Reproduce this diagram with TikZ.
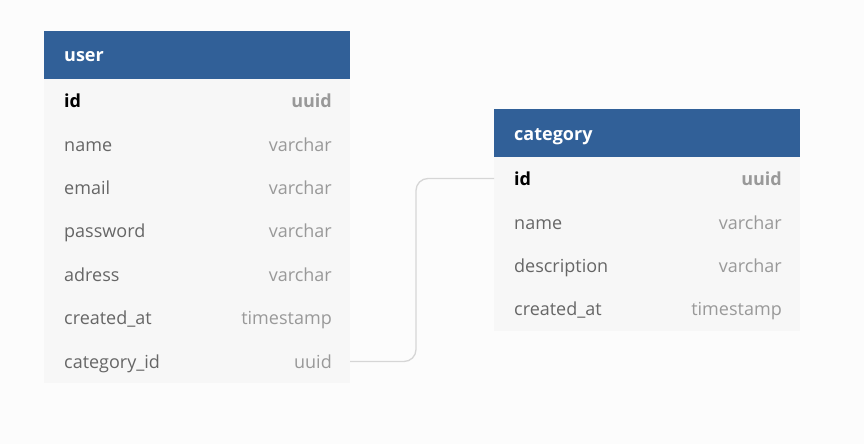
\documentclass[tikz,border=0pt]{standalone}
\usepackage{fontspec}
\setmainfont{Open Sans}
\begin{document}
\begin{tikzpicture}[x=1pt,y=-1pt,
  hdr/.style={fill=hdrblue,draw=none},
  rowbg/.style={fill=rowgray,draw=none},
  title/.style={anchor=base west,text=white,font=\fontsize{18}{20}\selectfont\bfseries,inner sep=0pt},
  fname/.style={anchor=base west,text=namegray,font=\fontsize{18}{20}\selectfont,inner sep=0pt},
  pkname/.style={anchor=base west,text=black,font=\fontsize{18}{20}\selectfont\bfseries,inner sep=0pt},
  ftype/.style={anchor=base east,text=typegray,font=\fontsize{18}{20}\selectfont,inner sep=0pt},
  pktype/.style={anchor=base east,text=typegray,font=\fontsize{18}{20}\selectfont\bfseries,inner sep=0pt},
  link/.style={draw=linegray,line width=1.3pt,rounded corners=12pt}
]
\definecolor{hdrblue}{HTML}{316098}
\definecolor{rowgray}{HTML}{F7F7F7}
\definecolor{bggray}{HTML}{FCFCFC}
\definecolor{namegray}{HTML}{666666}
\definecolor{typegray}{HTML}{999999}
\definecolor{linegray}{HTML}{D6D6D6}
\useasboundingbox (0,0) rectangle (864,444);
\fill[bggray] (0,0) rectangle (864,444);
% user table
\fill[rowbg] (44,79) rectangle (350,383);
\fill[hdr] (44,31) rectangle (350,79);
\node[title] (ut) at (64,62) {user};
\node[pkname] (u1) at (64,107.6) {id};
\node[pktype] (u1t) at (332,107.6) {uuid};
\node[fname] (u2) at (64,151.0) {name};
\node[ftype] (u2t) at (332,151.0) {varchar};
\node[fname] (u3) at (64,194.4) {email};
\node[ftype] (u3t) at (332,194.4) {varchar};
\node[fname] (u4) at (64,237.8) {password};
\node[ftype] (u4t) at (332,237.8) {varchar};
\node[fname] (u5) at (64,281.2) {adress};
\node[ftype] (u5t) at (332,281.2) {varchar};
\node[fname] (u6) at (64,324.6) {created\_at};
\node[ftype] (u6t) at (332,324.6) {timestamp};
\node[fname] (u7) at (64,368.0) {category\_id};
\node[ftype] (u7t) at (332,368.0) {uuid};
% category table
\fill[rowbg] (494,157) rectangle (800,330.5);
\fill[hdr] (494,109) rectangle (800,157);
\node[title] (ct) at (514,140) {category};
\node[pkname] (c1) at (514,185.6) {id};
\node[pktype] (c1t) at (782,185.6) {uuid};
\node[fname] (c2) at (514,229.0) {name};
\node[ftype] (c2t) at (782,229.0) {varchar};
\node[fname] (c3) at (514,272.4) {description};
\node[ftype] (c3t) at (782,272.4) {varchar};
\node[fname] (c4) at (514,315.8) {created\_at};
\node[ftype] (c4t) at (782,315.8) {timestamp};
% connector
\coordinate (ua) at (350,361.5);
\coordinate (ca) at (494,178.5);
\draw[link] (ua) -- (416,361.5) -- (416,178.5) -- (ca);
\end{tikzpicture}
\end{document}
